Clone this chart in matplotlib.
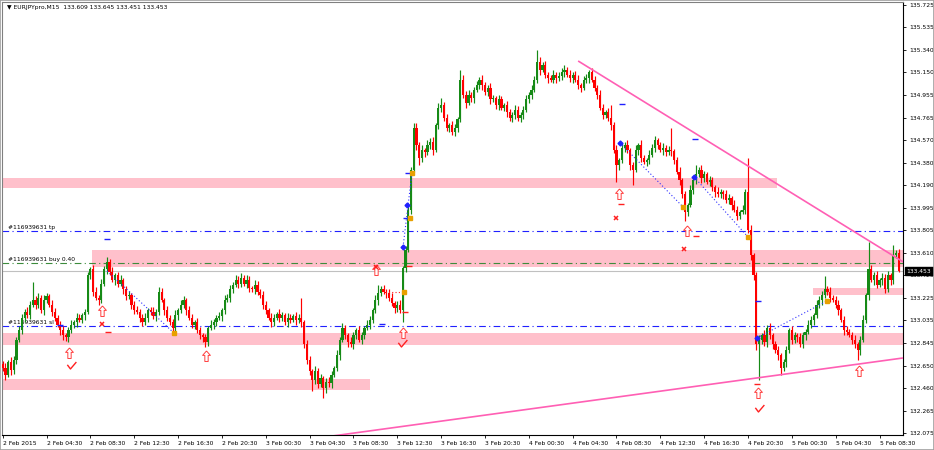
import numpy as np
import matplotlib.pyplot as plt
from matplotlib.path import Path

# ---------------- data ----------------
# EURJPY M15, one close per bar (bar 0 = 2 Feb 2015 00:00)
closes = [
    132.63, 132.57, 132.68, 132.61, 132.70, 132.87, 132.95, 133.06, 133.11, 133.08,
    133.17, 133.21, 133.17, 133.23, 133.12, 133.21, 133.24, 133.17, 133.11, 133.06,
    133.00, 132.95, 132.91, 132.89, 132.95, 133.00, 133.02, 133.06, 133.04, 133.08,
    133.11, 133.42, 133.47, 133.28, 133.23, 133.21, 133.35, 133.47, 133.53, 133.45,
    133.38, 133.42, 133.35, 133.38, 133.30, 133.24, 133.25, 133.17, 133.12, 133.11,
    133.06, 133.02, 133.06, 133.12, 133.11, 133.07, 133.11, 133.28, 133.21, 133.12,
    133.06, 133.02, 132.97, 133.08, 133.12, 133.17, 133.21, 133.12, 133.06, 133.00,
    133.02, 132.95, 132.91, 132.89, 132.85, 132.97, 133.00, 133.02, 133.06, 133.07,
    133.12, 133.21, 133.23, 133.30, 133.34, 133.38, 133.35, 133.40, 133.35, 133.38,
    133.31, 133.30, 133.34, 133.28, 133.25, 133.17, 133.12, 133.06, 133.02, 133.06,
    133.09, 133.06, 133.08, 133.02, 133.06, 133.04, 133.07, 133.04, 133.06, 133.02,
    132.83, 132.70, 132.60, 132.53, 132.60, 132.49, 132.54, 132.46, 132.51, 132.50,
    132.57, 132.63, 132.74, 132.87, 132.97, 132.91, 132.85, 132.83, 132.91, 132.95,
    132.87, 132.91, 132.97, 133.00, 133.04, 133.12, 133.21, 133.27, 133.30, 133.28,
    133.27, 133.23, 133.18, 133.14, 133.17, 133.12, 133.48, 133.64, 133.98, 134.32,
    134.68, 134.53, 134.42, 134.49, 134.47, 134.53, 134.56, 134.49, 134.70, 134.85,
    134.87, 134.76, 134.68, 134.70, 134.64, 134.68, 134.75, 135.09, 134.96, 134.89,
    134.96, 134.93, 135.00, 135.04, 135.09, 135.04, 134.98, 135.02, 134.92, 134.93,
    134.87, 134.92, 134.85, 134.87, 134.81, 134.76, 134.79, 134.83, 134.76, 134.79,
    134.83, 134.92, 134.96, 135.00, 135.09, 135.24, 135.17, 135.21, 135.13, 135.10,
    135.09, 135.13, 135.10, 135.12, 135.15, 135.17, 135.13, 135.10, 135.13, 135.09,
    135.04, 135.02, 135.09, 135.10, 135.15, 135.09, 135.02, 134.96, 134.85, 134.79,
    134.81, 134.76, 134.70, 134.49, 134.36, 134.40, 134.51, 134.53, 134.49, 134.36,
    134.32, 134.49, 134.53, 134.42, 134.39, 134.40, 134.45, 134.51, 134.57, 134.53,
    134.49, 134.51, 134.47, 134.49, 134.48, 134.40, 134.30, 134.23, 134.11, 133.96,
    134.02, 134.15, 134.23, 134.28, 134.32, 134.25, 134.28, 134.22, 134.23, 134.17,
    134.13, 134.11, 134.13, 134.11, 134.06, 134.08, 134.02, 133.98, 133.93, 133.96,
    133.98, 134.13, 133.81, 133.59, 133.42, 132.83, 132.87, 132.91, 132.85, 132.97,
    132.91, 132.83, 132.78, 132.74, 132.63, 132.68, 132.78, 132.95, 132.87, 132.91,
    132.89, 132.83, 132.91, 132.94, 133.00, 133.04, 133.08, 133.17, 133.21, 133.25,
    133.30, 133.28, 133.23, 133.21, 133.17, 133.12, 133.04, 132.95, 132.94, 132.91,
    132.87, 132.83, 132.78, 132.87, 133.04, 133.25, 133.47, 133.38, 133.42, 133.34,
    133.38, 133.40, 133.30, 133.42, 133.38, 133.59, 133.609, 133.453,
]
first_open = 132.66

# wick lengths above / below the body, in 0.01 yen
wick_hi = [
    3, 4, 2, 4, 3, 2, 4, 3, 2, 4,   3, 15, 3, 4, 2, 4, 3, 2, 4, 3,
    2, 3, 4, 2, 3, 4, 2, 4, 3, 2,   2, 3, 2, 4, 4, 2, 4, 3, 5, 3,
    4, 2, 3, 4, 2, 3, 4, 2, 3, 4,   2, 3, 4, 2, 3, 4, 2, 4, 3, 2,
    4, 2, 3, 4, 2, 4, 3, 2, 4, 3,   2, 4, 3, 2, 3, 2, 4, 3, 2, 4,
    2, 4, 3, 4, 2, 4, 3, 4, 2, 4,   3, 2, 4, 3, 2, 4, 3, 2, 4, 3,
    2, 4, 3, 2, 4, 3, 2, 4, 3, 17,  2, 4, 3, 2, 5, 3, 4, 2, 3, 4,
    3, 2, 4, 2, 4, 3, 2, 4, 3, 2,   4, 3, 2, 4, 3, 2, 4, 7, 3, 4,
    2, 3, 4, 2, 3, 4, 2, 3, 4, 2,   4, 4, 3, 4, 2, 4, 3, 4, 2, 4,
    6, 3, 4, 2, 4, 3, 2, 8, 4, 3,   4, 2, 3, 4, 2, 4, 3, 2, 4, 3,
    2, 4, 3, 2, 4, 3, 2, 4, 3, 2,   3, 4, 2, 4, 3, 10, 4, 3, 4, 2,
    3, 4, 2, 3, 4, 4, 3, 4, 2, 3,   4, 2, 3, 4, 2, 4, 3, 2, 4, 3,
    2, 4, 11, 3, 4, 2, 4, 3, 4, 2,  3, 4, 2, 4, 3, 2, 4, 3, 4, 2,
    3, 4, 2, 3, 19, 2, 3, 4, 2, 3,  2, 4, 3, 8, 2, 4, 3, 2, 4, 3,
    2, 4, 3, 2, 4, 3, 2, 4, 3, 2,   4, 3, 29, 4, 2, 3, 4, 2, 4, 3,
    4, 2, 3, 4, 2, 3, 4, 2, 4, 3,   2, 4, 3, 2, 4, 3, 2, 4, 3, 4,
    11, 3, 4, 2, 3, 4, 2, 3, 4, 2,  3, 4, 2, 3, 4, 2, 23, 4, 3, 4,
    2, 4, 3, 4, 2, 9, 3, 3.6,
]
wick_lo = [
    3, 4, 2, 4, 3, 4, 2, 3, 4, 2,   3, 2, 4, 3, 2, 4, 3, 2, 4, 3,
    2, 4, 4, 3, 4, 2, 3, 4, 2, 3,   4, 2, 3, 4, 2, 4, 3, 2, 4, 3,
    2, 4, 3, 2, 4, 3, 2, 4, 3, 2,   4, 3, 2, 4, 3, 2, 4, 3, 2, 4,
    3, 2, 4, 3, 4, 2, 3, 4, 2, 3,   4, 2, 3, 4, 4, 3, 2, 4, 3, 2,
    4, 3, 2, 4, 3, 2, 4, 3, 2, 4,   3, 2, 4, 3, 2, 4, 3, 2, 4, 3,
    2, 4, 3, 2, 4, 3, 2, 4, 3, 4,   3, 4, 3, 10, 4, 3, 2, 9, 4, 3,
    4, 2, 3, 4, 2, 3, 4, 2, 4, 3,   2, 4, 3, 2, 4, 3, 2, 4, 3, 2,
    4, 3, 2, 4, 3, 2, 10, 3, 2, 4,  2, 4, 6, 3, 4, 2, 3, 4, 2, 3,
    4, 2, 3, 4, 2, 3, 4, 2, 3, 4,   2, 3, 4, 2, 3, 4, 2, 3, 4, 2,
    3, 4, 2, 3, 4, 2, 3, 4, 2, 3,   4, 2, 3, 4, 2, 3, 4, 2, 3, 4,
    2, 3, 4, 2, 3, 4, 2, 3, 4, 2,   3, 4, 2, 3, 4, 2, 3, 4, 2, 4,
    3, 2, 4, 3, 14, 4, 2, 4, 3, 4,  13, 2, 4, 3, 2, 4, 3, 2, 4, 3,
    2, 4, 3, 2, 4, 3, 2, 4, 3, 8,   3, 2, 4, 3, 2, 4, 3, 2, 4, 3,
    4, 2, 3, 4, 2, 3, 4, 2, 4, 3,   2, 4, 3, 4, 4, 5, 30, 4, 3, 4,
    3, 4, 2, 4, 6, 3, 4, 2, 4, 3,   4, 2, 3, 4, 2, 3, 4, 2, 3, 4,
    2, 3, 4, 2, 3, 4, 2, 4, 3, 2,   4, 3, 8, 4, 2, 3, 4, 2, 4, 3,
    2, 4, 3, 2, 4, 3, 2, 0.2,
]

price_ticks = [135.725, 135.535, 135.340, 135.150, 134.955, 134.765, 134.570,
               134.380, 134.190, 133.995, 133.805, 133.610, 133.420, 133.225,
               133.035, 132.845, 132.650, 132.460, 132.265, 132.075]
time_labels = ['2 Feb 2015', '2 Feb 04:30', '2 Feb 08:30', '2 Feb 12:30',
               '2 Feb 16:30', '2 Feb 20:30', '3 Feb 00:30', '3 Feb 04:30',
               '3 Feb 08:30', '3 Feb 12:30', '3 Feb 16:30', '3 Feb 20:30',
               '4 Feb 00:30', '4 Feb 04:30', '4 Feb 08:30', '4 Feb 12:30',
               '4 Feb 16:30', '4 Feb 20:30', '5 Feb 00:30', '5 Feb 04:30',
               '5 Feb 08:30']
time_label_bars = [0, 16, 32, 48, 64, 80, 96, 112, 128, 144, 160,
                   176, 192, 208, 224, 240, 256, 272, 288, 304, 320]

# pink zones (start bar, end bar, low, high)
zone_start = [-1, 32.6, -1, -1, 295.7]
zone_end = [282.6, 330, 330, 134.0, 330]
zone_low = [134.165, 133.491, 132.826, 132.442, 133.252]
zone_high = [134.250, 133.636, 132.928, 132.536, 133.312]

# order lines
tp_level = 133.798
buy_level = 133.525
sl_level = 132.988
bid = 133.453
ticket = '#116939631'

# trend lines (two anchor points each)
down_bars = [210.0, 316.6]
down_prices = [135.248, 133.708]
up_bars = [120.5, 328.6]
up_prices = [132.05, 132.715]

# trade history marks
arrow_bars = [24.2, 36.2, 74.1, 146.0, 224.9, 249.6, 275.7, 312.5, 136.2]
arrow_prices = [132.758, 133.116, 132.732, 132.928, 134.114, 133.798, 132.416, 132.607, 133.465]
check_bars = [24.8, 145.7, 276.0]
check_prices = [132.655, 132.843, 132.289]
cross_bars = [36.4, 223.8, 248.7, 136.2]
cross_prices = [133.005, 133.909, 133.644, 133.49]
rdash_bars = [38.4, 225.7, 252.9, 275.3, 148.3, 146.8]
rdash_prices = [132.937, 134.028, 133.755, 132.493, 133.50, 133.107]
bdash_bars = [38.1, 225.9, 252.7, 275.7, 147.2, 147.9, 138.3, 21.0]
bdash_prices = [133.73, 134.881, 134.583, 133.201, 133.909, 134.293, 133.005, 133.0]
diamond_bars = [146.1, 147.6, 225.3, 252.3, 275.3]
diamond_prices = [133.662, 134.02, 134.549, 134.259, 132.886]
square_bars = [62.5, 248.3, 272.0, 300.8, 149.3, 148.6, 146.5]
square_prices = [132.928, 134.003, 133.747, 133.201, 134.293, 133.909, 133.278]
dot_from_bars = [38.1, 225.3, 252.3, 275.3, 146.1]
dot_from_prices = [133.457, 134.549, 134.259, 132.886, 133.662]
dot_to_bars = [62.5, 248.3, 272.0, 300.8, 149.4]
dot_to_prices = [132.928, 134.003, 133.747, 133.201, 134.301]

# ---------------- drawing ----------------
GREEN = '#168a16'
RED = '#ff0000'
PINK = '#ffc0cb'
TREND = '#ff5fb4'

closes = np.array(closes)
opens = np.concatenate([[first_open], closes[:-1]])
highs = np.maximum(opens, closes) + np.array(wick_hi) / 100
lows = np.minimum(opens, closes) - np.array(wick_lo) / 100
idx = np.arange(len(closes))
up = closes >= opens

fig = plt.figure(figsize=(9.34, 4.5), dpi=100)
ax = fig.add_axes([2 / 934, 15 / 450, 901 / 934, 433 / 450])
xmin, xmax = -0.26, 328.56
ax.set_xlim(xmin, xmax)
ax.set_ylim(132.058, 135.751)

for s, e, lo, hi in zip(zone_start, zone_end, zone_low, zone_high):
    ax.fill_between([s, e], lo, hi, color=PINK, lw=0, zorder=1)

ax.axhline(tp_level, color='#2020ff', lw=0.8, ls=(0, (6, 3, 1, 3)), zorder=2)
ax.axhline(buy_level, color='#3c8c3c', lw=0.8, ls=(0, (6, 3, 1, 3)), zorder=2)
ax.axhline(sl_level, color='#2020ff', lw=0.8, ls=(0, (6, 3, 1, 3)), zorder=2)
ax.axhline(bid, color='#c0c0c0', lw=0.8, zorder=2)
ax.text(2, tp_level + 0.01, ticket + ' tp', fontsize=4.3, va='bottom', zorder=3)
ax.text(2, buy_level + 0.01, ticket + ' buy 0.40', fontsize=4.3, va='bottom', zorder=3)
ax.text(2, sl_level + 0.01, ticket + ' sl', fontsize=4.3, va='bottom', zorder=3)

# candles
colors = np.where(up, GREEN, RED)
ax.vlines(idx, lows, highs, colors=colors, lw=0.85, zorder=4)
body = np.maximum(np.abs(closes - opens), 0.008)
ax.bar(idx, body, bottom=np.minimum(opens, closes), width=0.8, color=colors,
       lw=0, zorder=4)

# trend lines, extended to the right edge
for bx, py in ((down_bars, down_prices), (up_bars, up_prices)):
    slope = (py[1] - py[0]) / (bx[1] - bx[0])
    ax.plot([bx[0], xmax], [py[0], py[0] + slope * (xmax - bx[0])],
            color=TREND, lw=1.2, zorder=5, solid_capstyle='butt')

# trade marks
arrow_path = Path([(0, 1), (0.7, 0.2), (0.3, 0.2), (0.3, -0.9), (-0.3, -0.9),
                   (-0.3, 0.2), (-0.7, 0.2), (0, 1)])
check_path = Path([(-0.6, 0.1), (-0.15, -0.5), (0.7, 0.5)],
                  [Path.MOVETO, Path.LINETO, Path.LINETO])
ax.plot(arrow_bars, arrow_prices, ls='none', marker=arrow_path, ms=8,
        mfc='white', mec='#ff4040', mew=0.7, zorder=6)
ax.plot(check_bars, check_prices, ls='none', marker=check_path, ms=7,
        mfc='none', mec='#ff2020', mew=1.0, zorder=6)
ax.plot(cross_bars, cross_prices, ls='none', marker='x', ms=3,
        mec='#ff2020', mew=1.1, zorder=6)
ax.plot(rdash_bars, rdash_prices, ls='none', marker='_', ms=4,
        mec='#ff2020', mew=1.0, zorder=6)
ax.plot(bdash_bars, bdash_prices, ls='none', marker='_', ms=4,
        mec='#2020ff', mew=1.0, zorder=6)
for x0, y0, x1, y1 in zip(dot_from_bars, dot_from_prices, dot_to_bars, dot_to_prices):
    ax.plot([x0, x1], [y0, y1], color='#3030ff', lw=0.8, ls=(0, (1, 2)), zorder=5)
ax.plot([139.5, 146.1], [133.278, 133.278], color='#ff2020', lw=0.8,
        ls=(0, (1, 2)), zorder=5)
ax.plot(diamond_bars, diamond_prices, ls='none', marker='D', ms=2.5,
        mfc='#2020ff', mec='#2020ff', zorder=6)
ax.plot(square_bars, square_prices, ls='none', marker='s', ms=2.3,
        mfc='#e8a000', mec='#e8a000', zorder=6)

# axes styling
ax.yaxis.tick_right()
ax.set_yticks(price_ticks)
ax.set_yticklabels(['%.3f' % p for p in price_ticks])
ax.set_xticks(time_label_bars)
ax.set_xticklabels(time_labels, ha='left')
ax.tick_params(axis='y', direction='out', length=2.5, width=0.6, pad=2,
               labelsize=4.3)
ax.tick_params(axis='x', direction='out', length=2.5, width=0.6, pad=1.5,
               labelsize=4.3)
for sp in ax.spines.values():
    sp.set_linewidth(0.8)
    sp.set_color('black')
ax.spines['left'].set_color('#808080')
ax.spines['top'].set_color('#808080')

ax.text(1.004, bid, '%.3f' % bid, transform=ax.get_yaxis_transform(),
        fontsize=4.3, color='white', va='center', ha='left', zorder=10,
        bbox=dict(boxstyle='square,pad=0.25', fc='black', ec='black'))
ax.text(1.5, 135.70, '\u25bc EURJPYpro,M15  133.609 133.645 133.451 133.453',
        fontsize=4.3, va='center', zorder=10)

fig.patches.append(plt.Rectangle((0, 0), 1, 1, transform=fig.transFigure,
                                 fill=False, ec='#a0a0a0', lw=1.2))
fig.savefig('out.png', dpi=100)
